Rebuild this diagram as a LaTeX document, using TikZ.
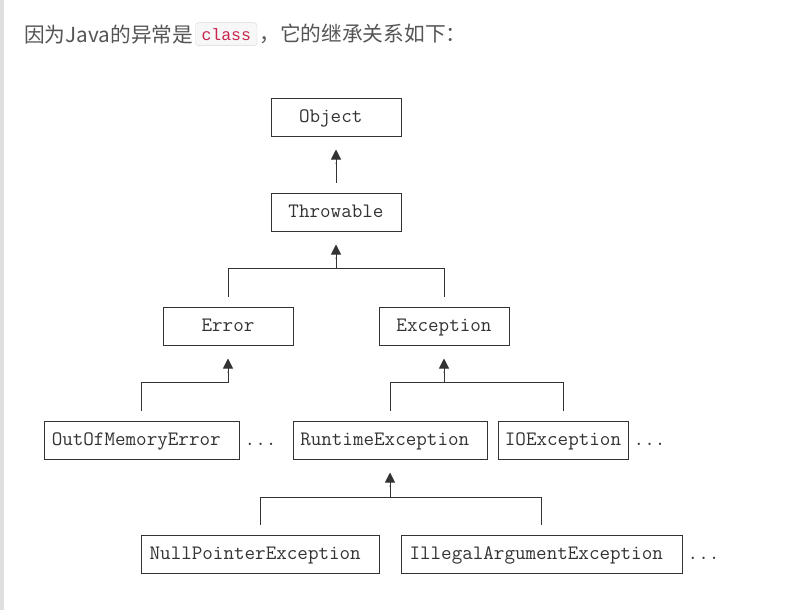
\documentclass[tikz,border=0pt]{standalone}
\usepackage{fontspec}
\newfontfamily\cjk{Noto Sans CJK SC}
\newfontfamily\codefont{Liberation Mono}
\usetikzlibrary{positioning,arrows.meta}
\definecolor{textgray}{HTML}{555555}
\definecolor{linegray}{HTML}{333333}
\definecolor{codered}{HTML}{C7254E}
\begin{document}
\begin{tikzpicture}[x=1pt,y=-1pt,
    cls/.style={draw=linegray, line width=1pt, text=linegray, inner sep=0pt,
        minimum height=38pt, text height=10pt, text depth=0pt,
        font=\fontsize{20.5}{24}\selectfont\ttfamily},
    more/.style={inner sep=0pt, text=linegray, text height=10pt, text depth=0pt,
        font=\fontsize{20.5}{24}\selectfont\ttfamily},
    bus/.style={draw=linegray, line width=1pt},
    inh/.style={draw=linegray, line width=1pt, shorten >=13pt,
        -{Butt Cap[sep=3pt]Triangle[length=10pt,width=10pt]}}]
    \fill[white] (0,0) rectangle (805,610);
    \fill[gray!25] (0,0) rectangle (4,610);
    \node[anchor=base west, inner sep=0pt, text=textgray, font=\cjk\fontsize{20.7}{24}\selectfont] (intro) at (24,42) {因为Java的异常是};
    \node[right=2pt of intro, draw=gray!30, fill=gray!6, rounded corners=3pt, minimum height=23pt,
        inner xsep=6pt, inner ysep=0pt, text=codered, font=\codefont\fontsize{16.5}{19}\selectfont] (code) {class};
    \node[right=2pt of code, inner sep=0pt, text=textgray, font=\cjk\fontsize{20.7}{24}\selectfont] (rest) {，它的继承关系如下：};
    \node[cls, minimum width=130pt] (object) at (336,117) {Object\hphantom{x}};
    \node[cls, minimum width=130pt] (throwable) at (336,212) {Throwable};
    \node[cls, minimum width=130pt] (error) at (228,326) {Error};
    \node[cls, minimum width=130pt] (exception) at (444,326) {Exception};
    \node[cls, minimum width=195pt] (oom) at (141.5,440) {OutOfMemoryError\hphantom{x}};
    \node[cls, minimum width=194pt] (runtime) at (390,440) {RuntimeException\hphantom{x}};
    \node[cls, minimum width=130pt] (io) at (563,440) {IOException};
    \node[cls, minimum width=238pt] (npe) at (260.5,554) {NullPointerException\hphantom{x}};
    \node[cls, minimum width=281pt] (iae) at (541.5,554) {IllegalArgumentException\hphantom{x}};
    \node[more, right=5pt of oom] (oommore) {...};
    \node[more, right=5pt of io] (iomore) {...};
    \node[more, right=5pt of iae] (iaemore) {...};
    \coordinate (thrbus) at ([yshift=-37pt]throwable.south);
    \coordinate (errbus) at ([yshift=-37pt]error.south);
    \coordinate (excbus) at ([yshift=-37pt]exception.south);
    \coordinate (rtebus) at ([yshift=-38pt]runtime.south);
    \draw[inh] ([yshift=10pt]throwable.north) -- (object.south);
    \draw[inh] (thrbus) -- (throwable.south);
    \draw[bus] ([yshift=10pt]error.north) |- (thrbus) -| ([yshift=10pt]exception.north);
    \draw[inh] (errbus) -- (error.south);
    \draw[bus] ([yshift=10pt]oom.north) |- (errbus);
    \draw[inh] (excbus) -- (exception.south);
    \draw[bus] ([yshift=10pt]runtime.north) |- (excbus) -| ([yshift=10pt]io.north);
    \draw[inh] (rtebus) -- (runtime.south);
    \draw[bus] ([yshift=10pt]npe.north) |- (rtebus) -| ([yshift=10pt]iae.north);
\end{tikzpicture}
\end{document}
